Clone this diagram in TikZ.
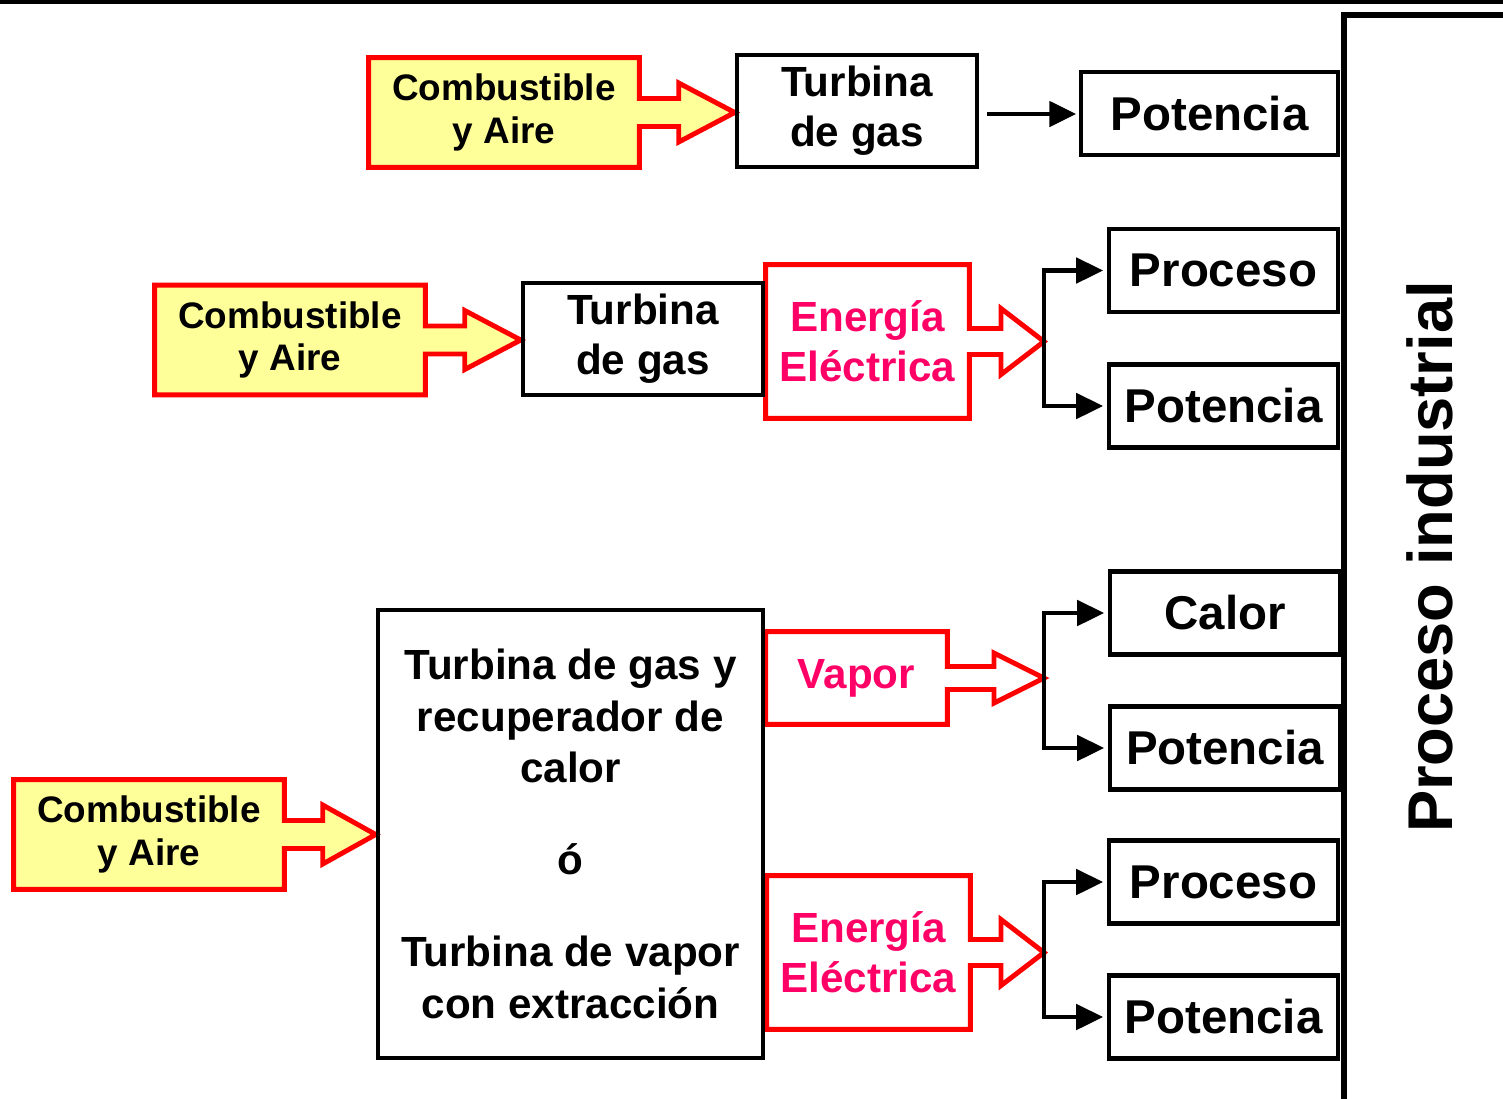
\documentclass[tikz,border=0pt]{standalone}
\usepackage{fontspec}
\setmainfont{Liberation Sans}
\usetikzlibrary{
  arrows.meta,
  positioning,
  calc,
  backgrounds
}
\definecolor{FuelYellow}{RGB}{255, 255, 153}
\definecolor{FlowRed}{RGB}{255, 0, 0}
\definecolor{FlowPink}{RGB}{255, 0, 102}

% box with its fat arrow: node, target, shaft half, head length, head half, fill
\newcommand{\redcallout}[6]{%
  \coordinate (tip) at (#1.east -| #2);
  \draw[line width=2.8pt, draw=FlowRed, fill=#6, line join=miter]
    (#1.north west) -- (#1.north east) -- ($(#1.east)+(0,#3)$)
    -- ($(tip)+(-#4,#3)$) -- ($(tip)+(-#4,#5)$) -- (tip)
    -- ($(tip)+(-#4,-#5)$) -- ($(tip)+(-#4,-#3)$) -- ($(#1.east)+(0,-#3)$)
    -- (#1.south east) -- (#1.south west) -- cycle;}

\begin{document}
\begin{tikzpicture}[
    font=\bfseries,
    fuel/.style={minimum width=5.4cm, minimum height=2.18cm, inner sep=0pt, align=center,
      font=\fontsize{21}{24}\selectfont\bfseries},
    machine/.style={draw, line width=2.6pt, inner sep=0pt, align=center,
      font=\fontsize{24}{28.5}\selectfont\bfseries},
    output/.style={minimum width=3.8cm, inner sep=0pt, align=center, text=FlowPink,
      font=\fontsize{24}{28.5}\selectfont\bfseries},
    usebox/.style={draw, line width=2.6pt, minimum width=4.58cm, minimum height=1.66cm,
      inner sep=0pt, font=\fontsize{27}{30}\selectfont\bfseries},
    flow/.style={line width=2.8pt, -{Triangle[length=0.54cm, width=0.5cm]}},
  ]
  \useasboundingbox (0,0) rectangle (30.06,-21.96);
  \draw[line width=2.3pt] (0,-0.04) -- (30.06,-0.04);

  % industrial process
  \node (plant) [draw, line width=3.5pt, anchor=north west, minimum width=5cm,
    minimum height=23cm] at (26.82,-0.24) {};
  \node (plantlabel) [rotate=90, font=\fontsize{36}{40}\selectfont\bfseries]
    at (28.6,-11.14) {Proceso industrial};

  % first scheme
  \node (fuel1) [fuel] at (10.08,-2.25) {Combustible\\ y Aire};
  \node (gt1) [machine, minimum width=4.8cm, minimum height=2.24cm] at (17.14,-2.22) {Turbina\\ de gas};
  \node (pot1) [usebox, minimum width=5.14cm] at (24.19,-2.27) {Potencia};
  \draw[flow, shorten <=0.16cm] (gt1.east) ++(0,-0.06) -- ++(1.94,0);

  % second scheme
  \node (fuel2) [fuel] at (5.8,-6.8) {Combustible\\ y Aire};
  \node (gt2) [machine, minimum width=4.8cm, minimum height=2.24cm] at (12.86,-6.78) {Turbina\\ de gas};
  \node (elec1) [output, minimum width=4.06cm, minimum height=3.06cm] at (17.35,-6.83) {Energía\\ Eléctrica};
  \coordinate (j1) at (20.88,-6.8);
  \node (proc1) [usebox] at (24.47,-5.41) {Proceso};
  \node (pot2) [usebox] at (24.47,-8.12) {Potencia};
  \draw[flow, shorten >=2pt] (j1) |- (proc1.west);
  \draw[flow, shorten >=2pt] (j1) |- (pot2.west);

  % third scheme
  \node (fuel3) [fuel] at (2.98,-16.69) {Combustible\\ y Aire};
  \node (plantunit) [machine, minimum width=7.7cm, minimum height=8.96cm,
    font=\fontsize{24}{29.3}\selectfont\bfseries] at (11.41,-16.68)
    {Turbina de gas y\\ recuperador de\\ calor\\[23pt] ó\\[23pt] Turbina de vapor\\ con extracción};
  \node (steam) [output, minimum width=3.62cm, minimum height=1.84cm] at (17.13,-13.56) {Vapor};
  \coordinate (j2) at (20.88,-13.56);
  \node (heat) [usebox, minimum width=4.6cm] at (24.5,-12.26) {Calor};
  \node (pot3) [usebox, minimum width=4.6cm] at (24.5,-14.96) {Potencia};
  \draw[flow, shorten >=2pt] (j2) |- (heat.west);
  \draw[flow, shorten >=2pt] (j2) |- (pot3.west);

  \node (elec2) [output, minimum width=4.06cm, minimum height=3.06cm] at (17.37,-19.05) {Energía\\ Eléctrica};
  \coordinate (j3) at (20.88,-19.04);
  \node (proc2) [usebox] at (24.47,-17.64) {Proceso};
  \node (pot4) [usebox] at (24.47,-20.34) {Potencia};
  \draw[flow, shorten >=2pt] (j3) |- (proc2.west);
  \draw[flow, shorten >=2pt] (j3) |- (pot4.west);

  \begin{scope}[on background layer]
    \redcallout{fuel1}{gt1.west}{0.28}{1.12}{0.59}{FuelYellow}
    \redcallout{fuel2}{gt2.west}{0.28}{1.12}{0.59}{FuelYellow}
    \redcallout{fuel3}{plantunit.west}{0.28}{1.06}{0.59}{FuelYellow}
    \redcallout{elec1}{j1}{0.26}{0.86}{0.66}{white}
    \redcallout{steam}{j2}{0.23}{1.0}{0.5}{white}
    \redcallout{elec2}{j3}{0.26}{0.86}{0.66}{white}
  \end{scope}
\end{tikzpicture}
\end{document}
